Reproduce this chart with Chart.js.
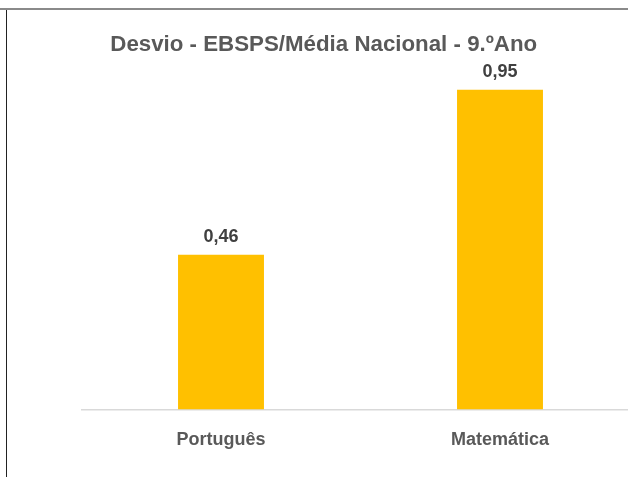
<!DOCTYPE html>
<html>
<head>
<meta charset="utf-8">
<script src="https://cdn.jsdelivr.net/npm/chart.js@4/dist/chart.umd.min.js"></script>
<style>
  body { margin: 0; background: #fff; overflow: hidden; width: 628px; height: 477px; position: relative; }
  #topLine { position: absolute; left: 0; top: 8px; width: 628px; height: 2px; background: #8a8a8a; }
  #leftLine { position: absolute; left: 6px; top: 10px; width: 1px; height: 467px; background: #222; }
  #wrap { position: absolute; left: 8px; top: 11px; width: 634px; height: 466px; }
</style>
</head>
<body>
<div id="topLine"></div>
<div id="leftLine"></div>
<div id="wrap"><canvas id="desvioChart"></canvas></div>
<script>
var categories = ["Português", "Matemática"];
var desvios = [0.46, 0.95];
var chartTitle = "Desvio - EBSPS/Média Nacional - 9.ºAno";

var valueLabels = {
  id: "valueLabels",
  afterDatasetsDraw: function(chart) {
    var ctx = chart.ctx;
    var meta = chart.getDatasetMeta(0);
    ctx.save();
    ctx.font = "bold 18px 'Liberation Sans', Arial, sans-serif";
    ctx.fillStyle = "#404040";
    ctx.textAlign = "center";
    ctx.textBaseline = "middle";
    meta.data.forEach(function(bar, i) {
      var txt = desvios[i].toFixed(2).replace(".", ",");
      ctx.fillText(txt, bar.x, bar.y - 17.5);
    });
    ctx.restore();
  }
};

window.onload = function() {
  var ctx = document.getElementById("desvioChart").getContext("2d");
  new Chart(ctx, {
    type: "bar",
    data: {
      labels: categories,
      datasets: [
        {
          label: "Desvio",
          data: desvios,
          backgroundColor: "#FFC000",
          borderWidth: 0,
          categoryPercentage: 1,
          barPercentage: 0.308
        }
      ]
    },
    options: {
      responsive: true,
      maintainAspectRatio: false,
      animation: false,
      layout: { padding: { left: 0, right: 2.5, top: 0, bottom: 6 } },
      plugins: {
        legend: { display: false },
        tooltip: { enabled: false },
        title: {
          display: true,
          text: chartTitle,
          color: "#595959",
          font: { family: "'Liberation Sans', Arial, sans-serif", size: 22.3, weight: "bold" },
          padding: { top: 20, bottom: 15.2 }
        }
      },
      scales: {
        x: {
          grid: { display: false, drawTicks: false },
          border: { color: "#d9d9d9", width: 1.5 },
          ticks: {
            color: "#595959",
            font: { family: "'Liberation Sans', Arial, sans-serif", size: 18, weight: "bold" },
            padding: 20
          }
        },
        y: {
          min: 0,
          max: 1,
          grid: { display: false, drawTicks: false },
          border: { display: false },
          ticks: { display: false },
          afterFit: function(scale) { scale.width = 73.5; }
        }
      }
    },
    plugins: [valueLabels]
  });
};
</script>
</body>
</html>
